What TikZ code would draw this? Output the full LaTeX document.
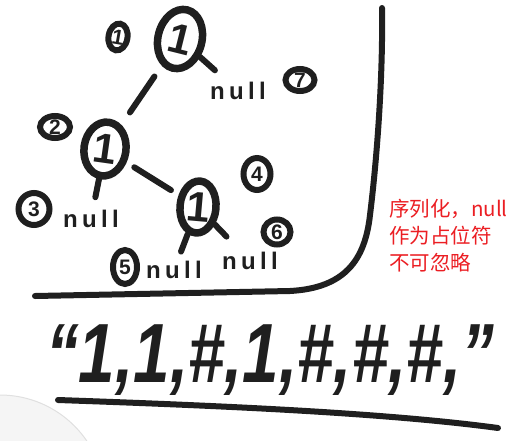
\documentclass[tikz,border=0pt]{standalone}
\usepackage{graphicx}
\usepackage{fontspec}
\setsansfont{Liberation Sans}
\newfontfamily\cjk{Noto Sans CJK SC}
\usetikzlibrary{shapes.geometric}
\definecolor{tinta}{gray}{0.12}
\definecolor{rojo}{RGB}{235,30,35}
\tikzset{
  trazo/.style={tinta, line width=6pt, line cap=round},
  valor/.style={ellipse, draw=tinta, line width=7.5pt, inner sep=0pt,
    minimum width=46pt, minimum height=60pt, text=tinta,
    font=\sffamily\bfseries\fontsize{42}{42}\selectfont},
  indice/.style={ellipse, draw=tinta, line width=6pt, inner sep=0pt, text=tinta,
    font=\sffamily\bfseries\fontsize{21}{21}\selectfont},
  nulo/.style={inner sep=1pt, text=tinta,
    font=\sffamily\bfseries\fontsize{24}{24}\selectfont\addfontfeatures{LetterSpace=18}},
}
\begin{document}
\begin{tikzpicture}[x=1pt, y=-1pt]
    \useasboundingbox (0,0) rectangle (512,440);
    % Barra de herramientas
    \fill[black!4] (0,500) circle (105);
    \draw[black!12, line width=1pt] (0,500) circle (105);
    % Nodos del árbol
    \node[valor, rotate=-14, minimum width=44pt, minimum height=60pt] (r) at (180,39) {1};
    \node[valor, rotate=-8, minimum width=42pt, minimum height=54pt] (a) at (105,149) {1};
    \node[valor, rotate=-5, minimum width=36pt, minimum height=52pt] (b) at (198,207) {1};
    \node[nulo] (n7) at (238,91) {null};
    \node[nulo] (n3) at (91,219) {null};
    \node[nulo] (n5) at (174,270) {null};
    \node[nulo] (n6) at (250,261) {null};
    % Aristas
    \draw[trazo, shorten >=16pt] (r) -- (n7);
    \draw[trazo, shorten <=13pt, shorten >=15pt] (r) -- (a);
    \draw[trazo, shorten >=12pt] (a) -- (n3);
    \draw[trazo, shorten <=9pt, shorten >=9pt] (a) -- (b);
    \draw[trazo, shorten >=9pt] (b) -- (n5);
    \draw[trazo, shorten >=20pt] (b) -- (n6);
    % Orden de visita
    \node[indice, rotate=-10, minimum width=19pt, minimum height=27pt] (i1) at (118,37) {1};
    \node[indice, minimum width=30pt, minimum height=22pt] (i2) at (55,127) {2};
    \node[indice, minimum width=31pt, minimum height=32pt] (i3) at (34,209) {3};
    \node[indice, minimum width=27pt, minimum height=32pt] (i4) at (257,174) {4};
    \node[indice, minimum width=24pt, minimum height=34pt] (i5) at (125,267) {5};
    \node[indice, minimum width=27pt, minimum height=25pt] (i6) at (277,232) {6};
    \node[indice, minimum width=29pt, minimum height=22pt] (i7) at (300,80) {7};
    % Marco
    \draw[trazo] (35,296) -- (290,291) .. controls (345,288) and (365,260) .. (370,215)
        .. controls (378,150) and (383,70) .. (382,8);
    % Nota
    \node[anchor=north west, inner sep=0pt, align=left, text=rojo,
        font=\cjk\fontsize{20.5}{27}\selectfont] (nota) at (389,199)
        {序列化，null\\作为占位符\\不可忽略};
    % Cadena serializada
    \node[anchor=base west, inner sep=0pt, text=tinta,
        font=\sffamily\bfseries\itshape\fontsize{84}{84}\selectfont] (cadena) at (46,382)
        {\scalebox{0.78}[1]{“1,1,\#,1,\#,\#,\#,”}};
    \draw[trazo] (58,400) .. controls (200,405) and (380,412) .. (498,428);
\end{tikzpicture}
\end{document}
